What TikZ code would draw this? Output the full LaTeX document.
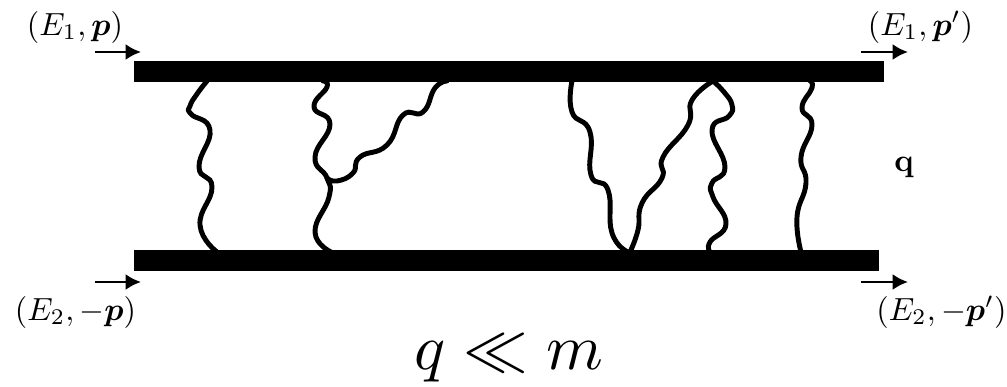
\documentclass[tikz,border=0pt]{standalone}
\usepackage{amsmath}
\usetikzlibrary{arrows.meta}
\tikzset{
  bar/.style={fill=black,draw=none,inner sep=0pt,minimum height=15.5pt,rectangle},
  gluon/.style={line width=3.7pt,line cap=round,line join=round,smooth,tension=0.85},
  mom/.style={line width=2pt,-{Latex[length=11.5pt,width=12pt]}},
  lab/.style={inner sep=0pt,scale=2.4},
}
\begin{document}
\begin{tikzpicture}[x=0.75pt,y=-0.75pt]
\useasboundingbox (0,0) rectangle (1007,386);
\node[bar,minimum width=562.5pt] (top) at (509,71.5) {};
\node[bar,minimum width=558.75pt] (bot) at (506.5,260.5) {};
% arrows
\coordinate (a1s) at (95,52); \coordinate (a1e) at (141,52);
\coordinate (a2s) at (95,282); \coordinate (a2e) at (141,282);
\coordinate (a3s) at (861,52); \coordinate (a3e) at (908,52);
\coordinate (a4s) at (861,282); \coordinate (a4e) at (908,282);
\draw[mom] (a1s) -- (a1e);
\draw[mom] (a2s) -- (a2e);
\draw[mom] (a3s) -- (a3e);
\draw[mom] (a4s) -- (a4e);
% labels
\node[lab] (l1) at (75,27) {$(E_1,\boldsymbol{p})$};
\node[lab] (l2) at (75.5,312) {$(E_2,-\boldsymbol{p})$};
\node[lab] (l3) at (920.5,27) {$(E_1,\boldsymbol{p}')$};
\node[lab] (l4) at (941.5,312) {$(E_2,-\boldsymbol{p}')$};
\node[lab] (ql) at (904,167) {$\mathbf{q}$};
\node[inner sep=0pt,scale=4.85] (cond) at (509,358) {$q \ll m$};
% gluons
\coordinate (t1) at (207,81); \coordinate (b1) at (217,252);
\coordinate (t2) at (323,81); \coordinate (b2) at (331,252);
\coordinate (v) at (327,178); \coordinate (t3) at (447,81);
\coordinate (t4) at (572,81); \coordinate (b4) at (628,252);
\coordinate (b5) at (630,252); \coordinate (t5) at (713,81);
\coordinate (b6) at (710,252);
\coordinate (t7) at (810,81); \coordinate (b7) at (801,252);
\draw[gluon] plot coordinates {(t1) (197,94) (190,106) (191,114) (210,130) (199,167) (212,187) (200,225) (b1)};
\draw[gluon] plot coordinates {(t2) (327,87) (314,107) (330,124) (315,157) (v) (329,197) (315,232) (b2)};
\draw[gluon] plot coordinates {(v) (337,181) (353,173) (360,157) (387,145) (403,115) (423,112) (435,88) (t3)};
\draw[gluon] plot coordinates {(t4) (572,112) (590,132) (591,175) (608,190) (612,233) (b4)};
\draw[gluon] plot coordinates {(b5) (638,230) (642,203) (662,178) (663,157) (688,125) (692,100) (t5)};
\draw[gluon] plot coordinates {(t5) (724,92) (732,105) (729,116) (712,130) (725,167) (712,183) (713,197) (726,224) (710,242) (b6)};
\draw[gluon] plot coordinates {(t7) (812,88) (802,108) (812,125) (801,157) (806,183) (797,217) (b7)};
\end{tikzpicture}
\end{document}
